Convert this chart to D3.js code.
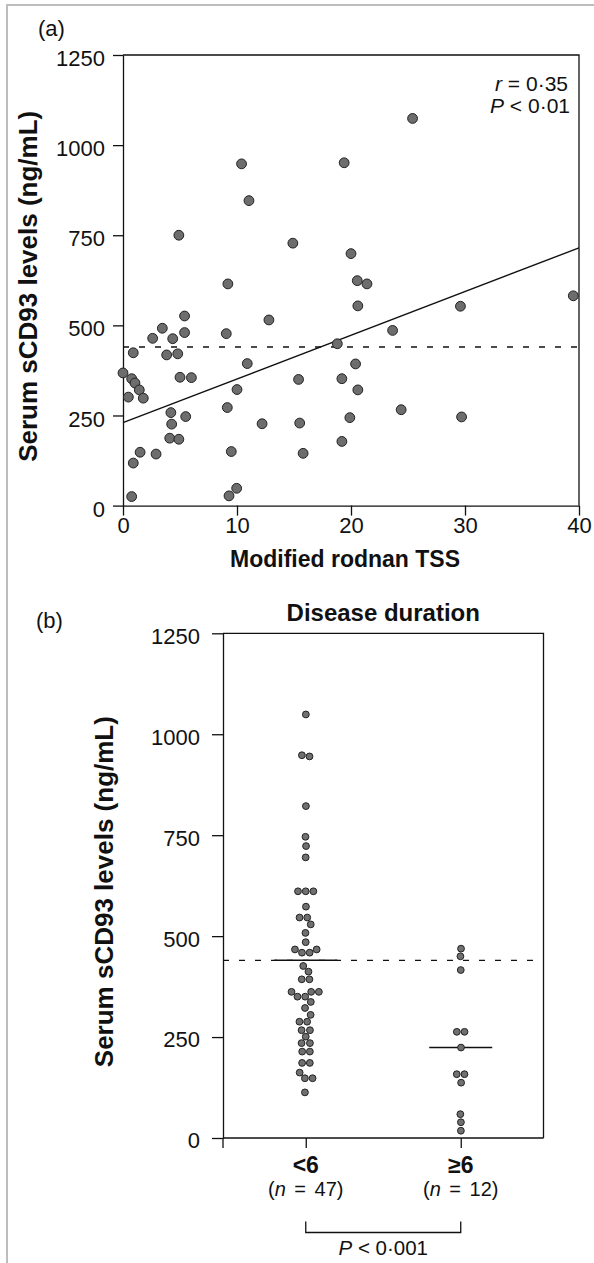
<!DOCTYPE html>
<html>
<head>
<meta charset="utf-8">
<script src="https://cdn.jsdelivr.net/npm/d3@7"></script>
<style>
  body { margin: 0; background: #fff; }
  svg { display: block; font-family: "Liberation Sans", Arial, sans-serif; }
</style>
</head>
<body>
<svg id="chart" width="594" height="1263"></svg>
<script>
// ---- panel (a): modified rodnan TSS vs serum sCD93 ----
const tssValues = [10.4, 11.05, 4.9, 14.9, 9.2, 25.4, 19.4, 20.0, 20.55, 21.4, 39.5,
  5.4, 12.8, 3.45, 5.4, 9.06, 2.6, 4.36, 0.9, 3.83, 4.8, 10.9, 0, 0.76, 1.05, 1.43, 1.78,
  0.47, 5.0, 6.0, 15.4, 10.0, 9.15, 4.2, 5.5, 4.27, 12.2, 15.5, 4.1, 4.9, 9.5, 1.5, 2.9,
  15.8, 0.9, 9.3, 9.97, 0.76, 20.6, 29.6, 23.65, 18.8, 20.4, 19.2, 20.6, 24.4, 19.9, 29.7, 19.2];
const cd93Values = [948, 846, 750, 728, 615, 1074, 951, 699, 624, 615, 582,
  526, 515, 492, 480, 477, 464, 463, 424, 418, 421, 394, 368, 352, 340, 321, 298,
  301, 356, 355, 350, 322, 272, 258, 247, 226, 227, 229, 187, 184, 150, 148, 143,
  145, 118, 27, 48, 25, 554, 553, 486, 449, 393, 352, 321, 266, 244, 246, 178];
const fitStart = [0, 230];
const fitEnd = [40, 715];
const cutoff = 440;
const xTicksA = [0, 10, 20, 30, 40];
const yTicks = [0, 250, 500, 750, 1000, 1250];

// ---- panel (b): disease duration groups ----
const groups = ["<6", "≥6"];
const groupN = [47, 12];
const shortDuration = [1049, 948, 945, 822, 746, 723, 695, 611, 611, 611, 573, 546, 546,
  529, 508, 485, 467, 467, 459, 459, 426, 412, 393, 393, 362, 362, 362, 350, 350, 337,
  322, 305, 288, 288, 267, 267, 251, 235, 235, 214, 214, 186, 186, 162, 148, 148, 113];
const longDuration = [469, 450, 416, 263, 263, 224, 158, 158, 137, 59, 39, 18];
const medians = [440, 224];

const svg = d3.select("#chart");
const ink = "#111";
const fmt = d3.format("d");

// page edge (scan border)
svg.append("line").attr("x1", 7).attr("x2", 7).attr("y1", 4).attr("y2", 1263)
  .attr("stroke", "#bdbdbd").attr("stroke-width", 2);
svg.append("line").attr("x1", 6).attr("x2", 594).attr("y1", 5).attr("y2", 5)
  .attr("stroke", "#bdbdbd").attr("stroke-width", 2);

function styleAxis(g, size) {
  g.select(".domain").attr("stroke", ink).attr("stroke-width", 1.3);
  g.selectAll(".tick line").attr("stroke", ink).attr("stroke-width", 1.3);
  g.selectAll(".tick text").attr("fill", ink);
  g.attr("font-size", size).attr("font-family", "'Liberation Sans', Arial, sans-serif");
}

// ================= panel (a) =================
const xA = d3.scaleLinear().domain([0, 40]).range([123, 579]);
const yA = d3.scaleLinear().domain([0, 1250]).range([505.6, 55]);

// frame top / right
svg.append("path")
  .attr("d", `M${xA(0)},${yA(1250)}H${xA(40)}V${yA(0)}`)
  .attr("fill", "none").attr("stroke", ink).attr("stroke-width", 1.3);

const gxA = svg.append("g").attr("transform", `translate(0,${yA(0)})`)
  .call(d3.axisBottom(xA).tickValues(xTicksA).tickFormat(fmt)
    .tickSize(10).tickSizeOuter(0).tickPadding(2));
styleAxis(gxA, 22);

const gyA = svg.append("g").attr("transform", `translate(${xA(0)},0)`)
  .call(d3.axisLeft(yA).tickValues(yTicks).tickFormat(fmt)
    .tickSize(10).tickSizeOuter(0).tickPadding(8));
styleAxis(gyA, 22);
gyA.selectAll(".tick text").attr("dy", "0.48em");

// cutoff (dashed) and regression line
svg.append("line")
  .attr("x1", xA(0)).attr("x2", xA(40))
  .attr("y1", yA(cutoff)).attr("y2", yA(cutoff))
  .attr("stroke", ink).attr("stroke-width", 1.3).attr("stroke-dasharray", "6,10");

svg.append("line")
  .attr("x1", xA(fitStart[0])).attr("y1", yA(fitStart[1]))
  .attr("x2", xA(fitEnd[0])).attr("y2", yA(fitEnd[1]))
  .attr("stroke", ink).attr("stroke-width", 1.4);

svg.append("g").selectAll("circle")
  .data(tssValues.map((t, i) => ({ t, v: cd93Values[i] })))
  .join("circle")
  .attr("cx", d => xA(d.t))
  .attr("cy", d => yA(d.v))
  .attr("r", 4.9)
  .attr("fill", "#6d6d6d")
  .attr("stroke", "#222")
  .attr("stroke-width", 1);

svg.append("text").attr("x", 38).attr("y", 36)
  .attr("font-size", 22).attr("fill", ink).text("(a)");

const stats = svg.append("g").attr("font-size", 21).attr("fill", ink).attr("text-anchor", "end");
const s1 = stats.append("text").attr("x", 568).attr("y", 91);
s1.append("tspan").attr("font-style", "italic").text("r");
s1.append("tspan").text(" = 0·35");
const s2 = stats.append("text").attr("x", 570).attr("y", 113);
s2.append("tspan").attr("font-style", "italic").text("P");
s2.append("tspan").text(" < 0·01");

svg.append("text")
  .attr("transform", `translate(37,${(yA(0) + yA(1250)) / 2 + 6}) rotate(-90)`)
  .attr("text-anchor", "middle").attr("font-size", 26).attr("font-weight", "bold")
  .attr("fill", ink).text("Serum sCD93 levels (ng/mL)");

svg.append("text").attr("x", 345).attr("y", 567)
  .attr("text-anchor", "middle").attr("font-size", 23).attr("font-weight", "bold")
  .attr("fill", ink).text("Modified rodnan TSS");

// ================= panel (b) =================
const left = 223, right = 543.5;
const xB = d3.scalePoint().domain(groups).range([left, right]).padding(0.534);
const yB = d3.scaleLinear().domain([0, 1250]).range([1138, 633.3]);

svg.append("path")
  .attr("d", `M${left},${yB(1250)}H${right}V${yB(0)}`)
  .attr("fill", "none").attr("stroke", ink).attr("stroke-width", 1.3);

const gxB = svg.append("g").attr("transform", `translate(0,${yB(0)})`)
  .call(d3.axisBottom(xB).tickSize(10).tickSizeOuter(0).tickFormat(""));
styleAxis(gxB, 22);
// extend the domain to the y axis and add the tick at the origin
gxB.select(".domain").attr("d", `M${left},0H${right}`);
gxB.append("line").attr("x1", left).attr("x2", left).attr("y1", 0).attr("y2", 10)
  .attr("stroke", ink).attr("stroke-width", 1.3);

const gyB = svg.append("g").attr("transform", `translate(${left},0)`)
  .call(d3.axisLeft(yB).tickValues(yTicks).tickFormat(fmt)
    .tickSize(11).tickSizeOuter(0).tickPadding(12));
styleAxis(gyB, 22);
gyB.selectAll(".tick text").attr("dy", "0.45em");

svg.append("line")
  .attr("x1", left).attr("x2", right)
  .attr("y1", yB(cutoff)).attr("y2", yB(cutoff))
  .attr("stroke", ink).attr("stroke-width", 1.3).attr("stroke-dasharray", "6,10");

// beeswarm: y fixed at value, x dodged by collision
function swarm(values, cx) {
  const nodes = values.map(v => ({ v, y: yB(v), fy: yB(v) }));
  const sim = d3.forceSimulation(nodes)
    .force("x", d3.forceX(0).strength(0.06))
    .force("collide", d3.forceCollide(3.85).iterations(4))
    .stop();
  for (let i = 0; i < 400; i++) sim.tick();
  nodes.forEach(n => { n.cx = cx + n.x; });
  return nodes;
}

const groupValues = [shortDuration, longDuration];
groups.forEach((grp, i) => {
  const cx = xB(grp);
  const nodes = swarm(groupValues[i], cx);

  svg.append("line")
    .attr("x1", cx - 31.5).attr("x2", cx + 31.5)
    .attr("y1", yB(medians[i])).attr("y2", yB(medians[i]))
    .attr("stroke", ink).attr("stroke-width", 1.5);

  svg.append("g").selectAll("circle")
    .data(nodes)
    .join("circle")
    .attr("cx", d => d.cx)
    .attr("cy", d => d.fy)
    .attr("r", 3.4)
    .attr("fill", "#707070")
    .attr("stroke", "#222")
    .attr("stroke-width", 1);

  svg.append("text").attr("x", cx).attr("y", 1173)
    .attr("text-anchor", "middle").attr("font-size", 23).attr("font-weight", "bold")
    .attr("fill", ink).text(grp);

  const nt = svg.append("text").attr("x", cx).attr("y", 1196)
    .attr("text-anchor", "middle").attr("font-size", 20).attr("word-spacing", 3)
    .attr("fill", ink);
  nt.append("tspan").text("(");
  nt.append("tspan").attr("font-style", "italic").text("n");
  nt.append("tspan").text(` = ${groupN[i]})`);
});

// significance bracket
const bx1 = xB(groups[0]), bx2 = xB(groups[1]);
svg.append("path")
  .attr("d", `M${bx1},1221.5V1232.5H${bx2}V1221.5`)
  .attr("fill", "none").attr("stroke", ink).attr("stroke-width", 1.3);
const pt = svg.append("text").attr("x", (bx1 + bx2) / 2).attr("y", 1255)
  .attr("text-anchor", "middle").attr("font-size", 20.5).attr("fill", ink);
pt.append("tspan").attr("font-style", "italic").text("P");
pt.append("tspan").text(" < 0·001");

svg.append("text").attr("x", 36).attr("y", 628)
  .attr("font-size", 22).attr("fill", ink).text("(b)");

svg.append("text").attr("x", (left + right) / 2).attr("y", 621)
  .attr("text-anchor", "middle").attr("font-size", 24).attr("font-weight", "bold")
  .attr("fill", ink).text("Disease duration");

svg.append("text")
  .attr("transform", `translate(113,${(yB(0) + yB(1250)) / 2 + 6}) rotate(-90)`)
  .attr("text-anchor", "middle").attr("font-size", 26).attr("font-weight", "bold")
  .attr("fill", ink).text("Serum sCD93 levels (ng/mL)");
</script>
</body>
</html>
